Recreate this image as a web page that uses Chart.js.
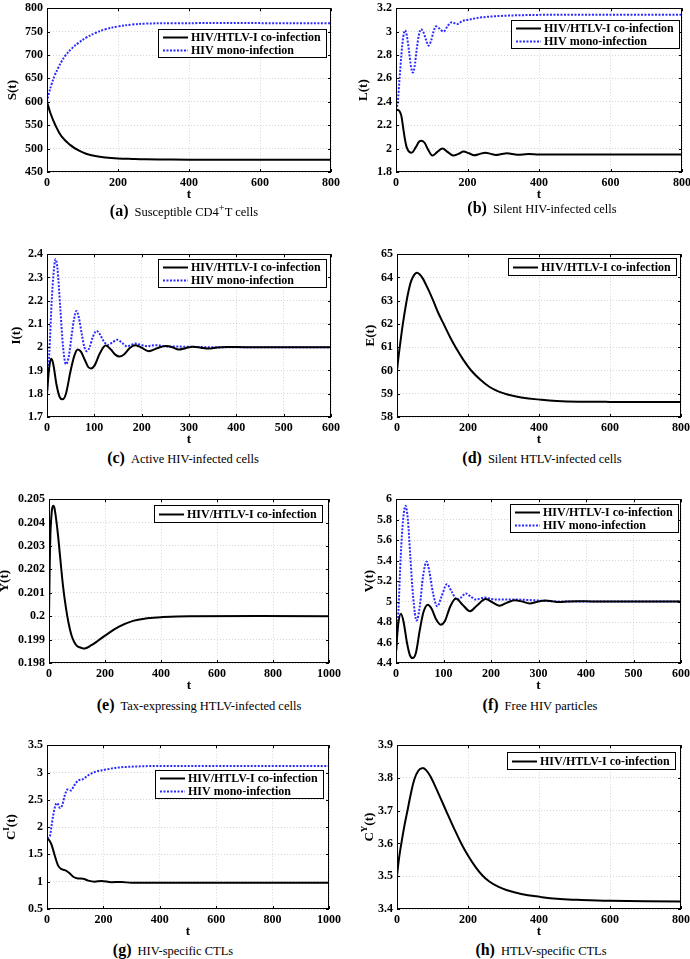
<!DOCTYPE html>
<html>
<head>
<meta charset="utf-8">
<script src="https://cdn.jsdelivr.net/npm/chart.js@4"></script>
<style>
body{margin:0;width:690px;height:959px;overflow:hidden;background:#fff;position:relative;}
.panel{position:absolute;}
.cap{position:absolute;transform:translateX(-50%);white-space:nowrap;font-family:"Liberation Serif",serif;font-size:12.5px;color:#000;line-height:18px;}
.cap b{font-size:16px;margin-right:6px;}
</style>
</head>
<body>
<script>
const CO = "HIV/HTLV-I co-infection";
const MONO = "HIV mono-infection";

// (a) S(t)
const tSCo = [0,10,23,41,65,89,110,136,165,200,240,277,350,450,800];
const sCo = [600,575,551,526,508,496,489,484,481,479,477.8,477,476.5,476.2,476];
const tSMono = [0,5,13,22,32,41,51,70,89,110,136,165,200,240,277,350,800];
const sMono = [600,617,638,657,673,686,698,714,726,737,747,755,761,765,767,768,768];

// (b) L(t)
const tLCo = [0,5,10,15,20,25,30,38,44,55,65,72,80,90,102,115,130,145,160,175,189,204,219,235,250,265,279,295,310,340,370,400,500,800];
const lCo = [2.33,2.33,2.32,2.28,2.18,2.08,2.01,1.97,1.965,2.01,2.06,2.068,2.05,1.99,1.94,1.97,2.0,1.97,1.94,1.955,1.975,1.96,1.943,1.955,1.965,1.955,1.946,1.953,1.96,1.948,1.953,1.95,1.95,1.95];
const tLMono = [0,5,10,15,20,25,30,37,42,47,52,58,64,70,76,84,91,98,105,112,120,133,145,156,165,172,185,200,225,250,300,400,500,800];
const lMono = [2.33,2.4,2.6,2.8,2.95,3.01,2.97,2.82,2.7,2.65,2.7,2.85,2.97,3.02,3.0,2.93,2.88,2.92,3.0,3.045,3.03,3.0,3.05,3.08,3.07,3.065,3.09,3.1,3.115,3.125,3.135,3.143,3.145,3.145];

// (c) I(t)
const tICo = [0,4,8.5,13,20,27,33,40,50,58,65,72,80,87,93,100,112,124,135,145,153,162,175,186,198,215,232,250,265,278,293,308,325,341,360,380,420,600];
const iCo = [1.8,1.9,1.95,1.93,1.84,1.785,1.776,1.8,1.9,1.965,1.99,1.98,1.945,1.915,1.909,1.92,1.975,2.007,1.99,1.967,1.96,1.968,1.997,2.008,2.0,1.983,1.995,2.005,2.0,1.99,1.996,2.002,1.998,1.994,1.999,2.001,2.0,2.0];
const tIMono = [0,5,10,14,18,22,28,34,40,46,52,57,62,67,74,79,84,90,97,105,112,120,128,138,148,158,169,178,186,198,210,230,250,270,300,350,600];
const iMono = [1.8,1.98,2.2,2.32,2.378,2.34,2.17,2.0,1.927,1.96,2.05,2.12,2.156,2.13,2.05,2.0,1.983,2.0,2.045,2.07,2.055,2.025,2.01,2.02,2.032,2.02,2.004,2.01,2.016,2.01,2.005,2.009,2.004,2.003,2.002,2.0,2.0];

// (d) E(t)
const tE = [0,4,9,16,26,33,40,48,56,64,72,80,90,102,117,133,150,167,186,209,235,260,285,311,350,407,450,511,600,800];
const eCo = [60,60.55,61.15,61.95,62.9,63.45,63.85,64.1,64.2,64.13,63.97,63.74,63.42,63.0,62.45,61.95,61.42,60.95,60.48,60.0,59.6,59.3,59.1,58.97,58.84,58.74,58.69,58.66,58.65,58.65];

// (e) Y(t)
const tY = [0,5,10,15,20,30,40,50,60,70,80,90,100,115,128,150,175,200,250,300,350,400,500,1000];
const yCo = [0.2,0.2035,0.2045,0.20472,0.2046,0.2037,0.2025,0.2013,0.2004,0.1997,0.1992,0.1989,0.19873,0.19865,0.19862,0.19875,0.19895,0.19917,0.19955,0.1998,0.19991,0.19996,0.2,0.2];

// (f) V(t)
const tVCo = [0,4,10.5,16,23,29,35,42,50,58,67,75,84,94,103,114,126,140,156,170,189,204,218,234,250,266,281,298,314,330,344,360,380,420,600];
const vCo = [4.5,4.75,4.88,4.8,4.6,4.48,4.448,4.5,4.72,4.9,4.97,4.93,4.83,4.774,4.81,4.95,5.03,4.97,4.906,4.96,5.024,4.99,4.96,4.99,5.014,5.0,4.982,4.998,5.01,5.002,4.995,5.0,5.004,5.0,5.0];
const tVMono = [0,5,10,15,20,25,30,36,43.5,50,57,64.5,70,78,87,96,107,117,128,137,147,157,168,178,187,200,220,250,280,320,360,600];
const vMono = [4.5,4.9,5.45,5.8,5.936,5.8,5.45,5.05,4.816,4.95,5.25,5.39,5.3,5.08,4.954,5.05,5.17,5.1,5.017,5.04,5.08,5.05,5.02,5.03,5.04,5.025,5.02,5.02,5.015,5.005,5.0,5.0];

// (g) C^I(t)
const tCICo = [0,8,16,28,40,52,69,81,93,110,128,146,169,193,228,264,299,400,1000];
const ciCo = [1.8,1.76,1.68,1.47,1.29,1.23,1.2,1.15,1.09,1.06,1.055,1.02,1.0,1.015,0.99,0.995,0.98,0.98,0.98];
const tCIMono = [0,10,16,22,30,36,46,54,63,73,85,96,110,128,146,169,200,252,346,400,1000];
const ciMono = [1.8,1.83,2.02,2.22,2.4,2.44,2.35,2.4,2.58,2.69,2.67,2.76,2.85,2.88,2.95,3.01,3.045,3.09,3.115,3.12,3.12];

// (h) C^Y(t)
const tCY = [0,4,8,13,21,30,39,49,60,71,82,94,115,137,159,181,200,220,240,260,285,308,350,403,450,507,600,800];
const cyCo = [3.5,3.54,3.572,3.605,3.655,3.703,3.752,3.796,3.822,3.83,3.824,3.805,3.757,3.703,3.65,3.6,3.563,3.53,3.503,3.484,3.468,3.458,3.446,3.437,3.431,3.428,3.425,3.423];

const captions = [
  ["a", "Susceptible CD4<sup>+</sup>T cells", 184, 208],
  ["b", "Silent HIV-infected cells", 542, 208],
  ["c", "Active HIV-infected cells", 183, 458],
  ["d", "Silent HTLV-infected cells", 542, 458],
  ["e", "Tax-expressing HTLV-infected cells", 199, 705],
  ["f", "Free HIV particles", 540, 705],
  ["g", "HIV-specific CTLs", 173, 950],
  ["h", "HTLV-specific CTLs", 541, 950]
];

// wavy: true -> monotone curves (keeps peaks at the read values), false -> bezier smoothing
const panels = [
  {left:0,   plot:[47,5,331,172],    xr:[0,800,200],  yr:[450,800,50],       main:"S", sup:"", labX:13,  lgTop:21, lgRight:5, wavy:false, sets:[[tSCo,sCo,CO],[tSMono,sMono,MONO]]},
  {left:345, plot:[396,5,682,172],   xr:[0,800,200],  yr:[1.8,3.2,0.2],      main:"L", sup:"", labX:364, lgTop:12, lgRight:3, wavy:true,  sets:[[tLCo,lCo,CO],[tLMono,lMono,MONO]]},
  {left:0,   plot:[47,251,331,417],  xr:[0,600,100],  yr:[1.7,2.4,0.1],      main:"I", sup:"", labX:17,  lgTop:5,  lgRight:5, wavy:true,  sets:[[tICo,iCo,CO],[tIMono,iMono,MONO]]},
  {left:345, plot:[397,251,681,417], xr:[0,800,200],  yr:[58,65,1],          main:"E", sup:"", labX:371, lgTop:4,  lgRight:5, wavy:false, sets:[[tE,eCo,CO]]},
  {left:0,   plot:[49,496,331,663],  xr:[0,1000,200], yr:[0.198,0.205,0.001],main:"Y", sup:"", labX:5,   lgTop:6,  lgRight:7, wavy:false, sets:[[tY,yCo,CO]]},
  {left:345, plot:[396,496,681,663], xr:[0,600,100],  yr:[4.4,6,0.2],        main:"V", sup:"", labX:370, lgTop:5,  lgRight:3, wavy:true,  sets:[[tVCo,vCo,CO],[tVMono,vMono,MONO]]},
  {left:0,   plot:[47,742,331,909],  xr:[0,1000,200], yr:[0.5,3.5,0.5],      main:"C", sup:"I", labX:12, lgTop:25, lgRight:6, wavy:true,  sets:[[tCICo,ciCo,CO],[tCIMono,ciMono,MONO]]},
  {left:345, plot:[397,742,681,909], xr:[0,800,200],  yr:[3.4,3.9,0.1],      main:"C", sup:"Y", labX:370, lgTop:7, lgRight:6, wavy:false, sets:[[tCY,cyCo,CO]]}
];

const SERIF = '"Liberation Serif", "Times New Roman", serif';
const BLUE = "#2b2bff";
const XH = 30;

function pts(t, y) {
    return t.map((v, i) => ({x: v, y: y[i]}));
}

function fmt(v) {
    return String(+Number(v).toFixed(6));
}

// black box round the plot area, with small inward ticks
const frame = {
    id: "frame",
    afterDatasetsDraw(chart) {
        const ctx = chart.ctx, a = chart.chartArea;
        ctx.save();
        ctx.strokeStyle = "#000";
        ctx.lineWidth = 1;
        ctx.setLineDash([]);
        ctx.strokeRect(Math.round(a.left) + 0.5, Math.round(a.top) + 0.5,
            Math.round(a.right - a.left) - 1, Math.round(a.bottom - a.top) - 1);
        ctx.beginPath();
        chart.scales.x.ticks.forEach(t => {
            const px = Math.round(chart.scales.x.getPixelForValue(t.value)) + 0.5;
            ctx.moveTo(px, a.bottom); ctx.lineTo(px, a.bottom - 3);
            ctx.moveTo(px, a.top); ctx.lineTo(px, a.top + 3);
        });
        chart.scales.y.ticks.forEach(t => {
            const py = Math.round(chart.scales.y.getPixelForValue(t.value)) + 0.5;
            ctx.moveTo(a.left, py); ctx.lineTo(a.left + 3, py);
            ctx.moveTo(a.right, py); ctx.lineTo(a.right - 3, py);
        });
        ctx.stroke();
        ctx.restore();
    }
};

// MATLAB-like boxed legend inside the plot
const boxLegend = {
    id: "boxLegend",
    afterDraw(chart, args, o) {
        const ctx = chart.ctx, a = chart.chartArea;
        const ds = chart.data.datasets;
        ctx.save();
        ctx.font = "bold 12px " + SERIF;
        const tw = Math.max(...ds.map(d => ctx.measureText(d.label).width));
        const rowH = 13, pad = ds.length > 1 ? 1 : 2;
        const w = Math.round(33 + tw + 5), h = ds.length * rowH + pad * 2;
        const x0 = Math.round(a.right - o.right - w), y0 = Math.round(a.top + o.top);
        ctx.fillStyle = "#fff";
        ctx.fillRect(x0, y0, w, h);
        ctx.strokeStyle = "#000";
        ctx.lineWidth = 1;
        ctx.strokeRect(x0 + 0.5, y0 + 0.5, w, h);
        ds.forEach((d, i) => {
            const cy = y0 + pad + rowH * i + rowH / 2 + 1;
            ctx.strokeStyle = d.borderColor;
            ctx.lineWidth = d.borderWidth;
            ctx.setLineDash(d.borderDash || []);
            ctx.beginPath();
            ctx.moveTo(x0 + 5, cy);
            ctx.lineTo(x0 + 30, cy);
            ctx.stroke();
            ctx.setLineDash([]);
            ctx.fillStyle = "#000";
            ctx.textBaseline = "middle";
            ctx.fillText(d.label, x0 + 33, cy);
        });
        ctx.restore();
    }
};

// rotated y label, with an optional superscript
const yLabel = {
    id: "yLabel",
    afterDraw(chart, args, o) {
        const ctx = chart.ctx, a = chart.chartArea;
        const f1 = "bold 13px " + SERIF, f2 = "bold 9px " + SERIF;
        ctx.save();
        ctx.translate(o.x, (a.top + a.bottom) / 2);
        ctx.rotate(-Math.PI / 2);
        ctx.fillStyle = "#000";
        ctx.textBaseline = "middle";
        ctx.font = f1;
        const w1 = ctx.measureText(o.main).width, w3 = ctx.measureText("(t)").width;
        ctx.font = f2;
        const w2 = o.sup ? ctx.measureText(o.sup).width : 0;
        let x = -(w1 + w2 + w3) / 2;
        ctx.font = f1;
        ctx.fillText(o.main, x, 0);
        x += w1;
        if (o.sup) {
            ctx.font = f2;
            ctx.fillText(o.sup, x, -5);
            x += w2;
        }
        ctx.font = f1;
        ctx.fillText("(t)", x, 0);
        ctx.restore();
    }
};

panels.forEach(p => {
    const W = p.left === 0 ? 345 : 355;
    const [pl, pt, pr, pb] = p.plot;
    const H = 8 + (pb - pt) + XH;
    const div = document.createElement("div");
    div.className = "panel";
    div.style.left = p.left + "px";
    div.style.top = (pt - 8) + "px";
    const cv = document.createElement("canvas");
    cv.width = W;
    cv.height = H;
    cv.style.width = W + "px";
    cv.style.height = H + "px";
    div.appendChild(cv);
    document.body.appendChild(div);

    // first dataset (co-infection) is drawn last, so it sits on top
    const datasets = p.sets.map(([t, y, label]) => {
        const mono = label === MONO;
        return {
            label: label,
            data: pts(t, y),
            borderColor: mono ? BLUE : "#000",
            borderWidth: 2,
            borderDash: mono ? [2, 1.5] : [],
            pointRadius: 0,
            fill: false,
            tension: 0.4,
            cubicInterpolationMode: p.wavy ? "monotone" : "default"
        };
    });

    const tickFont = {family: SERIF, size: 12, weight: "bold"};
    const yw = pl - p.left;

    new Chart(cv, {
        type: "line",
        data: {datasets: datasets},
        options: {
            responsive: false,
            animation: false,
            devicePixelRatio: 1,
            layout: {padding: {left: 0, top: 8, right: W - (pr - p.left), bottom: 0}},
            plugins: {
                legend: {display: false},
                tooltip: {enabled: false},
                boxLegend: {top: p.lgTop, right: p.lgRight},
                yLabel: {x: p.labX - p.left, main: p.main, sup: p.sup}
            },
            scales: {
                x: {
                    type: "linear",
                    min: p.xr[0], max: p.xr[1],
                    ticks: {stepSize: p.xr[2], font: tickFont, color: "#000", padding: 4, maxRotation: 0, autoSkip: false, callback: fmt},
                    grid: {color: "rgba(0,0,0,0.16)", drawTicks: false},
                    border: {display: false, dash: [1, 2]},
                    title: {display: true, text: "t", color: "#000", font: {family: SERIF, size: 13, weight: "bold"}, padding: 0},
                    afterFit(s) { s.height = XH; }
                },
                y: {
                    type: "linear",
                    min: p.yr[0], max: p.yr[1],
                    ticks: {stepSize: p.yr[2], font: tickFont, color: "#000", padding: 4, autoSkip: false, callback: fmt},
                    grid: {color: "rgba(0,0,0,0.16)", drawTicks: false},
                    border: {display: false, dash: [1, 2]},
                    afterFit(s) { s.width = yw; }
                }
            }
        },
        plugins: [frame, boxLegend, yLabel]
    });
});

captions.forEach(([k, text, cx, cy]) => {
    const d = document.createElement("div");
    d.className = "cap";
    d.style.left = cx + "px";
    d.style.top = (cy - 9) + "px";
    d.innerHTML = "<b>(" + k + ")</b>" + text;
    document.body.appendChild(d);
});
</script>
</body>
</html>
